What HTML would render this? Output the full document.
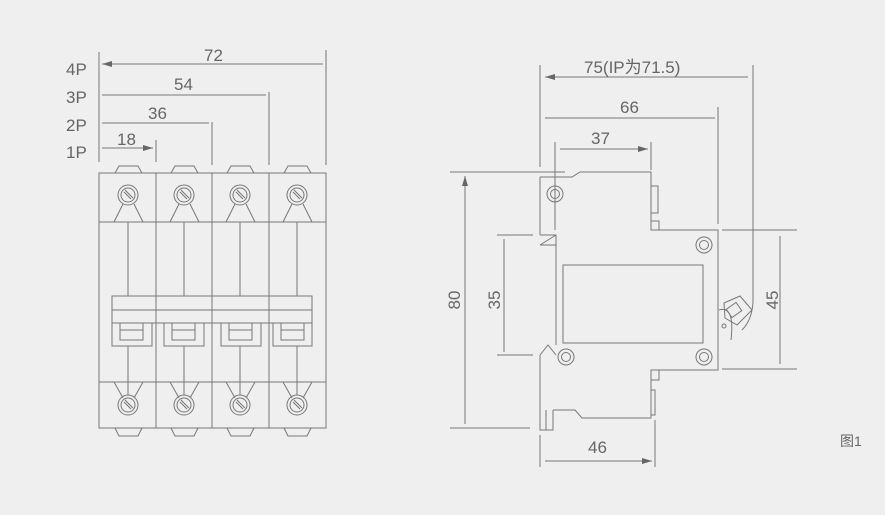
<!DOCTYPE html>
<html><head><meta charset="utf-8"><style>
html,body{margin:0;padding:0;background:#efefef;width:885px;height:515px;overflow:hidden}
svg{display:block}
text{font-family:"Liberation Sans","Noto Sans CJK SC",sans-serif;fill:#666;font-size:17px}
</style></head><body>
<svg width="885" height="515" viewBox="0 0 885 515">
<defs>
<marker id="a" viewBox="0 0 10 6" refX="10" refY="3" markerWidth="10" markerHeight="6" orient="auto" markerUnits="userSpaceOnUse"><path d="M0,0L10,3L0,6z" fill="#666"/></marker>
<marker id="b" viewBox="0 0 10 6" refX="0" refY="3" markerWidth="10" markerHeight="6" orient="auto" markerUnits="userSpaceOnUse"><path d="M10,0L0,3L10,6z" fill="#666"/></marker>
<g id="sc"><circle r="10" fill="none" stroke="#777" stroke-width="1"/><circle r="7" fill="none" stroke="#777"/><path d="M-4,-3L3,4M-3,-5L5,3" stroke="#777" fill="none"/></g>
<g id="sc2"><circle r="8" fill="none" stroke="#777"/><circle r="4.5" fill="none" stroke="#777"/></g>
</defs>
<g stroke="#777" fill="none" stroke-width="1">
<path d="M99,52V162M156,140V162M212,122V165M269,92V165M326,50V165"/>
<path d="M102,64H323M102,95H266M102,123H209M102,148H153" marker-start="url(#b)" marker-end="url(#a)"/>
<rect x="99" y="173" width="227" height="255"/>
<path d="M156,173V428M212,173V428M269,173V428M99,222H326M99,382H326"/>
<g id="col">
<path d="M115,173L119,166H138L142,173M115,428L119,436H138L142,428"/>
<path d="M114,222L123,204M143,222L134,204M114,382L123,398M143,382L134,398"/>
<path d="M128,222V296M128,346V395"/>
</g>
<use href="#col" x="56"/><use href="#col" x="112"/><use href="#col" x="169"/>
<rect x="112" y="323" width="40" height="23"/><rect x="120" y="323" width="23" height="17"/><path d="M120,330H143"/>
<rect x="164" y="323" width="40" height="23"/><rect x="172" y="323" width="23" height="17"/><path d="M172,330H195"/>
<rect x="221" y="323" width="40" height="23"/><rect x="229" y="323" width="23" height="17"/><path d="M229,330H252"/>
<rect x="273" y="323" width="39" height="23"/><rect x="281" y="323" width="23" height="17"/><path d="M281,330H304"/>
<rect x="112" y="296" width="200" height="27"/><path d="M112,310H312"/>
<use href="#sc" x="128" y="195"/><use href="#sc" x="184" y="195"/><use href="#sc" x="240" y="195"/><use href="#sc" x="297" y="195"/>
<use href="#sc" x="128" y="405"/><use href="#sc" x="184" y="405"/><use href="#sc" x="240" y="405"/><use href="#sc" x="297" y="405"/>
<path d="M540,65V167M555,142V230M718,107V224M651,142V170M753,65V302Q752,320 742,330"/>
<path d="M545,77H748M545,118H715M560,149H648" marker-start="url(#b)" marker-end="url(#a)"/>
<path d="M450,172H565M450,428H530M497,235H533M497,355H533M722,230H797M722,369H797M540,435V467M655,420V467"/>
<path d="M465,176V424M504,239V352M780,236V364M545,461H652" marker-start="url(#b)" marker-end="url(#a)"/>
<path d="M540,177H572L580,172H651V230H718V370H651V418H582L575,410H553M540,177V235M556,245V345M540,355V430H553V410M546,410V430"/>
<path d="M540,235H556V245H540M540,245L556,235M540,355L548,345L556,355"/>
<rect x="651" y="186" width="7" height="27"/><rect x="651" y="221" width="8" height="9"/>
<rect x="651" y="370" width="8" height="10"/><rect x="651" y="390" width="4" height="25"/>
<rect x="563" y="265" width="140" height="78"/>
<use href="#sc2" x="555" y="194"/><use href="#sc2" x="704" y="245"/><use href="#sc2" x="566" y="357"/><use href="#sc2" x="704" y="357"/>
<path d="M719,310Q735,305 731,340M724,303L740,296L752,310L737,325L725,318z"/>
<rect x="728" y="305" width="12" height="10" transform="rotate(-35 734 310)"/>
<circle cx="724" cy="326" r="2"/>
</g>
<text x="66" y="75">4P</text><text x="66" y="103">3P</text><text x="66" y="131">2P</text><text x="66" y="158">1P</text>
<text x="204" y="61">72</text><text x="174" y="90">54</text><text x="148" y="119">36</text><text x="117" y="145">18</text>
<text x="584" y="73">75(IP为71.5)</text><text x="620" y="113">66</text><text x="591" y="144">37</text>
<text x="588" y="453">46</text>
<text transform="translate(460,300) rotate(-90)" text-anchor="middle">80</text>
<text transform="translate(500,300) rotate(-90)" text-anchor="middle">35</text>
<text transform="translate(778,300) rotate(-90)" text-anchor="middle">45</text>
<text x="840" y="446" style="font-size:14px">图1</text>
</svg>
</body></html>
